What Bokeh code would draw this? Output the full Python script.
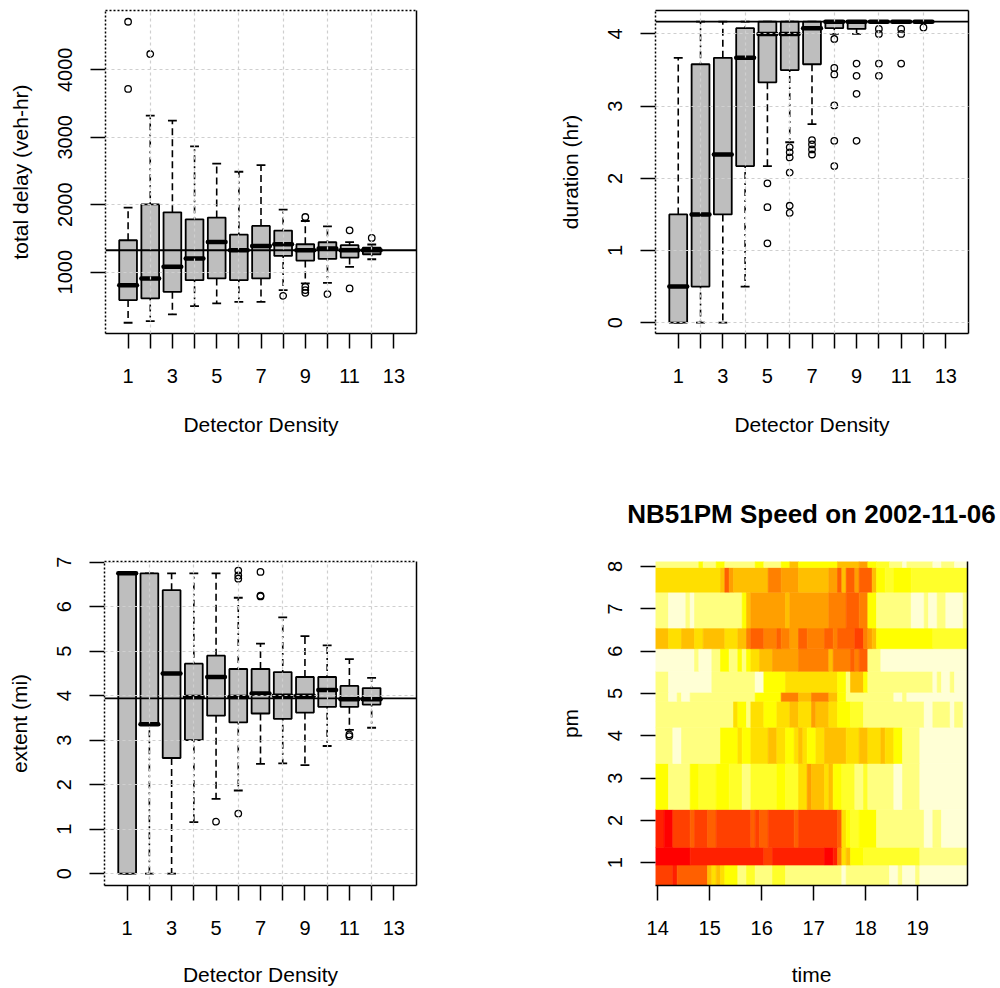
import math
from bokeh.plotting import figure
from bokeh.models import FixedTicker, LinearAxis, Range1d, Span, ColumnDataSource
from bokeh.layouts import column, row
from bokeh.embed import file_html
from bokeh.resources import INLINE

FONT = "Liberation Sans"

# ------------------------------------------------------------------ data
density = [1, 2, 3, 4, 5, 6, 7, 8, 9, 10, 11, 12]
density_ticks = [1, 2, 3, 4, 5, 6, 7, 8, 9, 10, 11, 12, 13]

# total delay (veh-hr)
delay_wlo = [250, 275, 374, 497, 537, 561, 561, 734, 833, 842, 1079, 1192]
delay_q1 = [586, 611, 709, 882, 907, 882, 907, 1241, 1172, 1197, 1217, 1266]
delay_med = [808, 907, 1079, 1202, 1448, 1325, 1389, 1414, 1325, 1350, 1325, 1325]
delay_q3 = [1473, 2006, 1887, 1784, 1809, 1557, 1685, 1616, 1414, 1444, 1400, 1365]
delay_whi = [1957, 3322, 3248, 2864, 2608, 2489, 2587, 1927, 1759, 1680, 1445, 1410]
delay_out_x = [1, 1, 2, 8, 9, 9, 9, 9, 10, 11, 11, 12]
delay_out_y = [4712, 3717, 4234, 650, 1818, 783, 734, 694, 675, 1621, 759, 1508]
delay_ref = 1325
delay_ticks = [1000, 2000, 3000, 4000]

# duration (hr)
dur_wlo = [0, 0, 0, 0.5, 2.17, 2.5, 2.75, 4.0, 4.0, 4.17, 4.17, 4.17]
dur_q1 = [0, 0.5, 1.5, 2.17, 3.33, 3.5, 3.58, 4.08, 4.07, 4.17, 4.17, 4.17]
dur_med = [0.5, 1.5, 2.33, 3.67, 4.0, 4.0, 4.08, 4.17, 4.17, 4.17, 4.17, 4.17]
dur_q3 = [1.5, 3.58, 3.67, 4.08, 4.17, 4.17, 4.17, 4.17, 4.17, 4.17, 4.17, 4.17]
dur_whi = [3.67, 4.17, 4.17, 4.17, 4.17, 4.17, 4.17, 4.17, 4.17, 4.17, 4.17, 4.17]
dur_out_x = [5, 5, 5, 6, 6, 6, 6, 6, 6, 7, 7, 7, 7,
             8, 8, 8, 8, 8, 8, 9, 9, 9, 9, 10, 10, 10, 10, 11, 11, 11, 12]
dur_out_y = [1.93, 1.6, 1.1, 2.43, 2.36, 2.29, 2.08, 1.62, 1.52, 2.53, 2.47, 2.40, 2.33,
             3.93, 3.53, 3.44, 3.01, 2.52, 2.17, 3.59, 3.42, 3.17, 2.52,
             4.07, 4.0, 3.59, 3.42, 4.07, 4.0, 3.59, 4.09]
dur_ref = 4.17
dur_ticks = [0, 1, 2, 3, 4]

# extent (mi)
ext_wlo = [0, 0, 0, 1.16, 1.68, 1.87, 2.47, 2.48, 2.44, 2.87, 3.23, 3.28]
ext_q1 = [0, 3.36, 2.6, 3.0, 3.55, 3.4, 3.6, 3.48, 3.62, 3.75, 3.75, 3.8]
ext_med = [6.75, 3.36, 4.5, 3.97, 4.42, 3.97, 4.05, 4.0, 4.0, 4.13, 3.92, 3.92]
ext_q3 = [6.75, 6.75, 6.37, 4.72, 4.9, 4.6, 4.6, 4.53, 4.42, 4.42, 4.22, 4.17]
ext_whi = [6.75, 6.75, 6.75, 6.75, 6.75, 6.2, 5.17, 5.76, 5.34, 5.13, 4.82, 4.4]
ext_out_x = [5, 6, 6, 6, 6, 7, 7, 7, 11, 11]
ext_out_y = [1.17, 1.35, 6.63, 6.70, 6.81, 6.23, 6.25, 6.78, 3.13, 3.09]
ext_ref = 3.94
ext_ticks = [0, 1, 2, 3, 4, 5, 6, 7]

# speed heat map: 72 five-minute intervals starting 14:00, rows bounded by pm_edges
time_start = 14.0
interval_min = 5
n_intervals = 72
time_ticks = [14, 15, 16, 17, 18, 19]
pm_ticks = [1, 2, 3, 4, 5, 6, 7, 8]
pm_edges = [0.463, 0.946, 1.364, 2.261, 3.346, 4.202, 4.815, 5.028, 5.523, 6.058, 6.544, 7.394, 7.976, 8.118]
# speed class (0 = slowest / red ... 11 = fastest / pale) as (first interval, class) runs, bottom row first
speed_class_runs = [
    [(0, 2), (4, 1), (5, 3), (12, 6), (13, 7), (14, 6), (15, 7), (16, 8), (19, 10), (21, 9), (23, 10), (27, 9),
     (30, 10), (43, 11), (44, 10), (54, 11), (56, 10), (57, 11), (60, 10), (61, 11)],
    [(0, 0), (8, 1), (25, 2), (27, 1), (39, 0), (41, 1), (42, 4), (43, 7), (44, 6), (45, 8), (48, 9), (61, 10)],
    [(0, 1), (2, 0), (4, 2), (8, 3), (9, 2), (12, 3), (14, 2), (22, 3), (23, 2), (24, 3), (26, 2), (32, 3), (33, 2),
     (42, 3), (43, 7), (44, 8), (45, 9), (47, 8), (51, 10), (62, 11), (64, 10), (66, 11)],
    [(0, 8), (3, 10), (8, 8), (10, 9), (14, 8), (17, 9), (20, 10), (22, 9), (28, 8), (30, 9), (33, 7), (35, 5),
     (36, 6), (39, 7), (40, 6), (41, 8), (43, 9), (46, 10), (48, 9), (49, 10), (55, 11), (57, 10), (61, 11)],
    [(0, 10), (4, 11), (6, 10), (15, 8), (19, 7), (20, 8), (22, 7), (26, 6), (28, 7), (30, 8), (32, 7), (33, 6),
     (34, 7), (35, 8), (37, 7), (39, 6), (44, 7), (47, 6), (49, 7), (52, 6), (53, 7), (55, 8), (57, 10), (61, 11)],
    [(0, 10), (18, 7), (19, 8), (21, 10), (22, 7), (25, 8), (28, 7), (31, 6), (33, 7), (36, 5), (37, 6), (40, 7),
     (42, 8), (45, 9), (48, 10), (62, 11), (64, 10), (68, 11), (69, 10), (71, 11)],
    [(0, 10), (3, 11), (5, 10), (6, 11), (8, 10), (23, 8), (29, 4), (33, 6), (36, 4), (40, 6), (42, 8), (44, 10),
     (55, 11), (57, 10), (58, 11)],
    [(0, 10), (3, 11), (13, 10), (23, 11), (25, 8), (30, 7), (42, 8), (44, 10), (45, 6), (48, 8), (49, 10),
     (64, 11), (65, 10), (66, 11), (68, 10), (69, 11)],
    [(0, 11), (9, 10), (10, 11), (13, 10), (15, 8), (17, 10), (19, 8), (20, 10), (21, 8), (22, 7), (24, 6),
     (27, 5), (33, 4), (40, 6), (41, 4), (45, 3), (46, 4), (47, 3), (49, 10), (52, 11)],
    [(0, 6), (3, 7), (6, 6), (9, 7), (11, 6), (16, 7), (19, 6), (21, 4), (22, 3), (25, 4), (28, 3), (29, 4),
     (31, 5), (33, 3), (35, 4), (39, 3), (41, 4), (42, 3), (46, 2), (48, 4), (49, 5), (50, 6), (51, 8), (64, 9)],
    [(0, 10), (3, 11), (7, 10), (8, 11), (9, 10), (20, 8), (21, 6), (22, 5), (30, 6), (31, 5), (40, 4), (44, 3),
     (47, 4), (49, 8), (51, 10), (59, 11), (62, 10), (63, 11), (65, 10), (67, 11), (71, 10)],
    [(0, 7), (15, 6), (16, 3), (17, 5), (18, 6), (26, 4), (29, 5), (33, 6), (40, 5), (42, 3), (43, 6), (44, 3),
     (46, 5), (47, 3), (50, 6), (51, 8), (53, 9), (55, 8), (59, 9)],
    [(0, 10), (10, 8), (11, 10), (14, 8), (16, 10), (23, 8), (25, 10), (29, 8), (31, 6), (33, 8), (42, 6),
     (47, 5), (49, 8), (51, 9), (54, 10), (57, 11), (58, 10), (64, 11), (66, 10), (69, 11)],
]
heat_palette = ["#FF0000", "#FF2000", "#FF4000", "#FF6000", "#FF8000", "#FF9F00",
                "#FFBF00", "#FFDF00", "#FFFF00", "#FFFF2A", "#FFFF80", "#FFFFD5"]

# ------------------------------------------------------------------ styling helpers
BOX_HALF = 0.4
STAPLE_HALF = 0.2
DASHED = "7 4"
DOTDASH = "2 4 7 4"
TOP_H = 460
BOTTOM_H = 528


def style_axis(ax):
    ax.major_label_text_font = FONT
    ax.major_label_text_font_size = "20px"
    ax.major_label_text_color = "black"
    ax.axis_label_text_font = FONT
    ax.axis_label_text_font_size = "21px"
    ax.axis_label_text_font_style = "normal"
    ax.axis_label_text_color = "black"
    ax.major_tick_line_color = "black"
    ax.major_tick_line_width = 1.5
    ax.major_tick_out = 15
    ax.major_tick_in = 0
    ax.minor_tick_line_color = None
    ax.axis_line_color = "black"
    ax.axis_line_width = 1.5


def x_axis_text(ax, label_standoff):
    ax.major_label_standoff = 20
    ax.axis_label_standoff = label_standoff


def y_axis_text(ax):
    ax.major_label_orientation = "vertical"
    ax.major_label_standoff = 18
    ax.axis_label_standoff = 24


def edge_axis(p, side, dotted):
    ax = LinearAxis(ticker=FixedTicker(ticks=[]), major_label_text_font_size="0px",
                    major_tick_out=0, major_tick_in=0, minor_tick_out=0, minor_tick_in=0,
                    major_label_standoff=0, axis_line_color="black", axis_line_width=1.5)
    if dotted:
        ax.axis_line_dash = "2 2"
    p.add_layout(ax, side)


def box_panel(wlo, q1, med, q3, whi, out_x, out_y, ref, yr, yticks, ylabel, height, borders,
              top_dotted, label_standoff):
    p = figure(width=500, height=height, x_range=Range1d(-0.02, 14.02), y_range=Range1d(*yr),
               output_backend="svg", toolbar_location=None,
               min_border_left=borders[0], min_border_right=borders[1],
               min_border_top=borders[2], min_border_bottom=borders[3])
    p.outline_line_color = None
    p.background_fill_color = "white"
    p.border_fill_color = "white"

    x = density
    src = ColumnDataSource(dict(
        x=x, left=[v - BOX_HALF for v in x], right=[v + BOX_HALF for v in x],
        sl=[v - STAPLE_HALF for v in x], sr=[v + STAPLE_HALF for v in x],
        wlo=wlo, q1=q1, med=med, q3=q3, whi=whi))
    odd = [i for i in range(len(x)) if x[i] % 2 == 1]
    even = [i for i in range(len(x)) if x[i] % 2 == 0]
    for idx, dash in ((odd, DASHED), (even, DOTDASH)):
        xs = [x[i] for i in idx]
        p.segment(x0=xs + xs, x1=xs + xs,
                  y0=[q3[i] for i in idx] + [q1[i] for i in idx],
                  y1=[whi[i] for i in idx] + [wlo[i] for i in idx],
                  line_color="black", line_width=1.6, line_dash=dash)
    p.segment(x0="sl", x1="sr", y0="whi", y1="whi", source=src, line_color="black", line_width=1.8)
    p.segment(x0="sl", x1="sr", y0="wlo", y1="wlo", source=src, line_color="black", line_width=1.8)
    p.quad(left="left", right="right", bottom="q1", top="q3", source=src,
           fill_color="#BEBEBE", line_color="black", line_width=1.8)
    p.segment(x0="left", x1="right", y0="med", y1="med", source=src,
              line_color="black", line_width=4.5, line_cap="round")
    p.scatter(out_x, out_y, marker="circle", size=6.5, fill_color=None,
              line_color="black", line_width=1.3)
    p.add_layout(Span(location=ref, dimension="width", line_color="black", line_width=1.8))

    p.xgrid.ticker = FixedTicker(ticks=[2, 4, 6, 8, 10, 12])
    p.ygrid.ticker = FixedTicker(ticks=yticks)
    for g in (p.xgrid[0], p.ygrid[0]):
        g.grid_line_color = "#CFCFCF"
        g.grid_line_dash = "3 3"
        g.grid_line_width = 1.2
        g.level = "overlay"

    xa = p.xaxis[0]
    style_axis(xa)
    xa.ticker = FixedTicker(ticks=density_ticks)
    xa.major_label_overrides = {t: "" for t in density_ticks if t % 2 == 0}
    xa.axis_label = "Detector Density"
    x_axis_text(xa, label_standoff)

    ya = p.yaxis[0]
    style_axis(ya)
    ya.ticker = FixedTicker(ticks=yticks)
    ya.axis_label = ylabel
    ya.axis_line_dash = "2 2"
    y_axis_text(ya)

    edge_axis(p, "right", False)
    edge_axis(p, "above", top_dotted)
    return p


p1 = box_panel(delay_wlo, delay_q1, delay_med, delay_q3, delay_whi, delay_out_x, delay_out_y,
               delay_ref, (91, 4879), delay_ticks, "total delay (veh-hr)", TOP_H,
               (105, 84, 10, TOP_H - 333), True, 27)
p2 = box_panel(dur_wlo, dur_q1, dur_med, dur_q3, dur_whi, dur_out_x, dur_out_y,
               dur_ref, (-0.15, 4.325), dur_ticks, "duration (hr)", TOP_H,
               (155, 32, 10, TOP_H - 333), False, 27)
p3 = box_panel(ext_wlo, ext_q1, ext_med, ext_q3, ext_whi, ext_out_x, ext_out_y,
               ext_ref, (-0.265, 7.015), ext_ticks, "extent (mi)", BOTTOM_H,
               (104, 84, 561 - TOP_H, 102), True, 25)

# ------------------------------------------------------------------ heat map
step = interval_min / 60.0
p4 = figure(width=500, height=BOTTOM_H,
            x_range=Range1d(time_start - step / 2, time_start + (n_intervals - 0.5) * step),
            y_range=Range1d(pm_edges[0], pm_edges[-1]),
            output_backend="svg", toolbar_location=None,
            min_border_left=155, min_border_right=33, min_border_top=561 - TOP_H, min_border_bottom=102)
p4.outline_line_color = None
p4.xgrid.visible = False
p4.ygrid.visible = False

left, right, bottom, top, color = [], [], [], [], []
for r, runs in enumerate(speed_class_runs):
    for j, (start, cls) in enumerate(runs):
        end = runs[j + 1][0] if j + 1 < len(runs) else n_intervals
        left.append(time_start + (start - 0.5) * step)
        right.append(time_start + (end - 0.5) * step)
        bottom.append(pm_edges[r])
        top.append(pm_edges[r + 1])
        color.append(heat_palette[cls])
p4.quad(left=left, right=right, bottom=bottom, top=top, fill_color=color,
        line_color=color, line_width=0.6)

xa = p4.xaxis[0]
style_axis(xa)
xa.ticker = FixedTicker(ticks=time_ticks)
xa.axis_label = "time"
x_axis_text(xa, 25)
ya = p4.yaxis[0]
style_axis(ya)
ya.ticker = FixedTicker(ticks=pm_ticks)
ya.axis_label = "pm"
ya.axis_line_color = None
y_axis_text(ya)
edge_axis(p4, "right", False)

p4.title.text = "NB51PM Speed on 2002-11-06"
p4.title.align = "center"
p4.title.text_font = FONT
p4.title.text_font_size = "26px"
p4.title.text_font_style = "bold"
p4.title.text_color = "black"
try:
    p4.title.standoff = 66
except AttributeError:
    pass

layout = column(row(p1, p2), row(p3, p4))
open("out.html", "w").write(file_html(layout, INLINE))
